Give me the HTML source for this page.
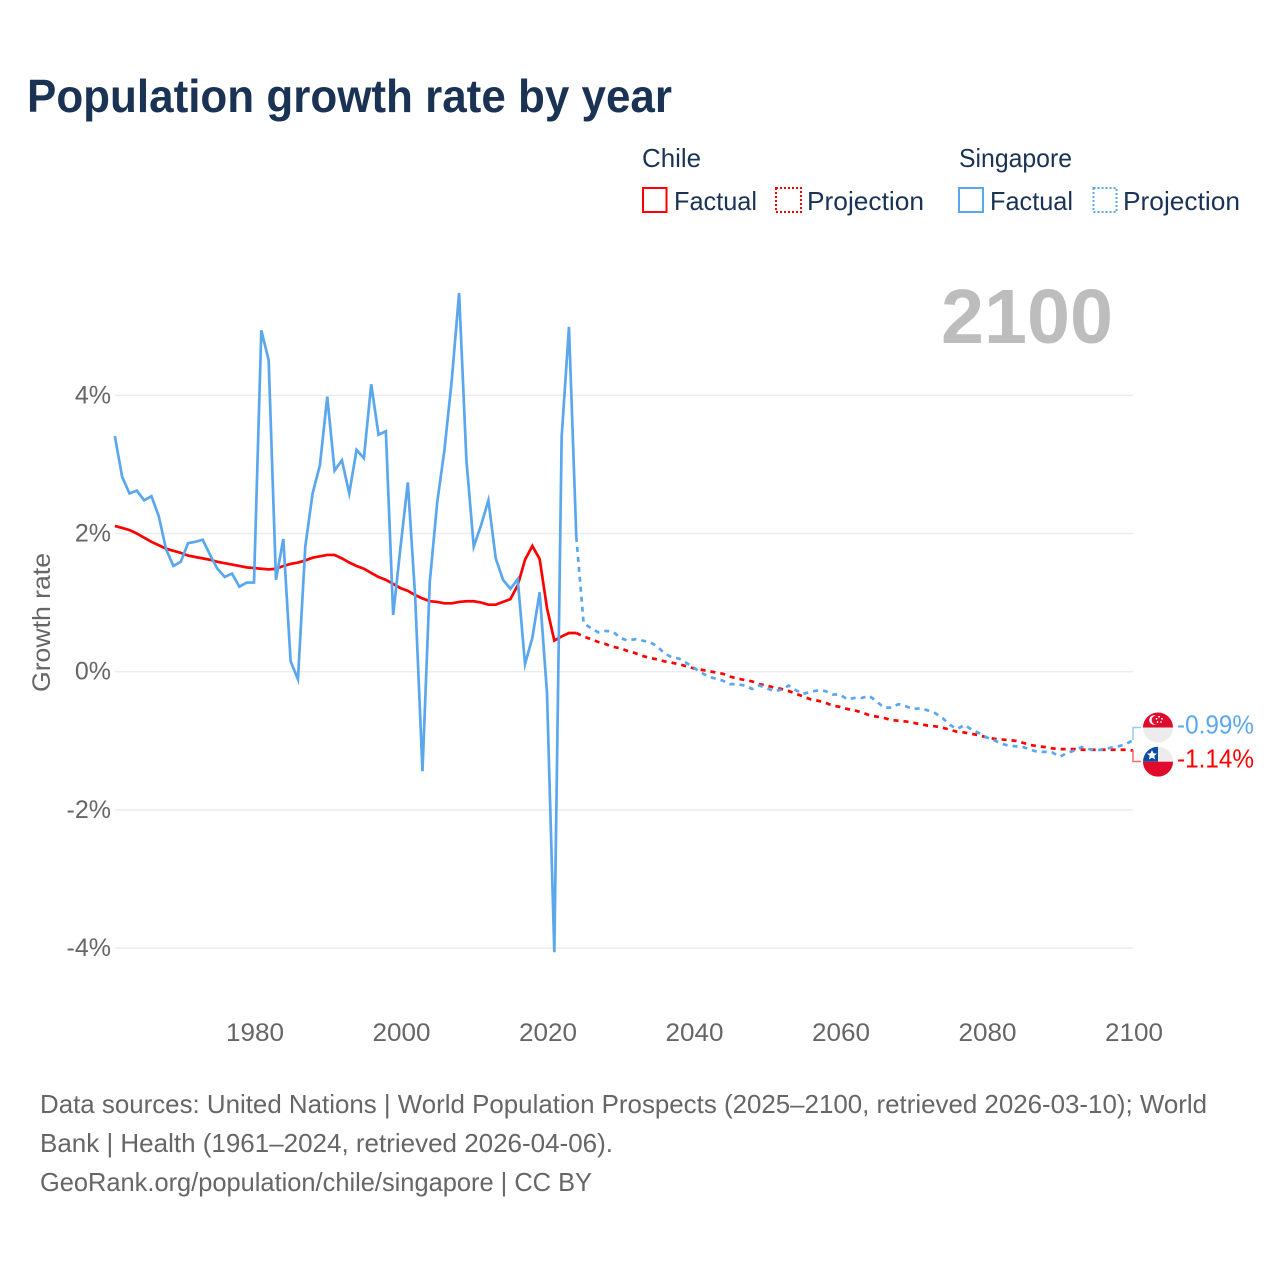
<!DOCTYPE html>
<html lang="en">
<head>
<meta charset="utf-8">
<title>Population growth rate by year</title>
<style>
html,body{margin:0;padding:0;background:#fff;}
svg{display:block;font-family:"Liberation Sans",sans-serif;}
</style>
</head>
<body>
<svg id="chart" xmlns="http://www.w3.org/2000/svg" width="1280" height="1280" viewBox="0 0 1280 1280">
  <defs>
    <clipPath id="clip-sg"><circle cx="1158" cy="727.5" r="15"/></clipPath>
    <clipPath id="clip-cl"><circle cx="1158" cy="761.7" r="15"/></clipPath>
  </defs>
  <rect x="0" y="0" width="1280" height="1280" fill="#fff"/>
  <text x="27" y="112" font-size="46" font-weight="700" fill="#1a3354" textLength="645" lengthAdjust="spacingAndGlyphs">Population growth rate by year</text>

  <g font-size="26" fill="#1a3354">
    <text x="642" y="167" textLength="59" lengthAdjust="spacingAndGlyphs">Chile</text>
    <text x="959" y="167" textLength="113" lengthAdjust="spacingAndGlyphs">Singapore</text>
    <rect x="643" y="188" width="23.5" height="24" fill="none" stroke="#ff0000" stroke-width="2"/>
    <text x="674" y="210" textLength="83" lengthAdjust="spacingAndGlyphs">Factual</text>
    <rect x="776" y="188" width="25" height="24" fill="none" stroke="#ff0000" stroke-width="2" stroke-dasharray="2 2"/>
    <text x="807" y="210" textLength="117" lengthAdjust="spacingAndGlyphs">Projection</text>
    <rect x="959" y="188" width="24" height="24" fill="none" stroke="#5ba7ee" stroke-width="2"/>
    <text x="990" y="210" textLength="83" lengthAdjust="spacingAndGlyphs">Factual</text>
    <rect x="1093.5" y="188" width="23" height="24" fill="none" stroke="#5ba7ee" stroke-width="2" stroke-dasharray="2 2"/>
    <text x="1123" y="210" textLength="117" lengthAdjust="spacingAndGlyphs">Projection</text>
  </g>

  <text x="941" y="343" font-size="77" font-weight="700" fill="#bdbdbd" textLength="172" lengthAdjust="spacingAndGlyphs">2100</text>

  <g id="grid"></g>
  <g id="yticks" font-size="25" fill="#666"></g>
  <g id="xticks" font-size="25" fill="#666"></g>
  <text transform="translate(50,692) rotate(-90)" x="0" y="0" font-size="25" fill="#666" textLength="139" lengthAdjust="spacingAndGlyphs">Growth rate</text>
  <g id="series"></g>

  <path d="M1133 740V727.5H1141" fill="none" stroke="#9cc8f3" stroke-width="1.5"/>
  <path d="M1133 750V761.5H1141" fill="none" stroke="#f56a6a" stroke-width="1.5"/>

  <g clip-path="url(#clip-sg)">
    <rect x="1143" y="712.5" width="30" height="15" fill="#df0a2c"/>
    <rect x="1143" y="727.5" width="30" height="15" fill="#ececec"/>
    <circle cx="1154" cy="720" r="4.8" fill="#fff"/>
    <circle cx="1156" cy="720" r="4.4" fill="#df0a2c"/>
    <circle cx="1159" cy="716.8" r="0.9" fill="#fff"/>
    <circle cx="1162" cy="718.8" r="0.9" fill="#fff"/>
    <circle cx="1161" cy="722" r="0.9" fill="#fff"/>
    <circle cx="1157.5" cy="722" r="0.9" fill="#fff"/>
    <circle cx="1156.5" cy="718.8" r="0.9" fill="#fff"/>
  </g>
  <g clip-path="url(#clip-cl)">
    <rect x="1143" y="746.7" width="30" height="15" fill="#ececec"/>
    <rect x="1143" y="746.7" width="15" height="15" fill="#0b4ea2"/>
    <rect x="1143" y="761.7" width="30" height="15" fill="#df0a2c"/>
    <polygon points="1152,750 1153.4,753.3 1157,753.6 1154.3,755.9 1155.1,759.4 1152,757.6 1148.9,759.4 1149.7,755.9 1147,753.6 1150.6,753.3" fill="#fff"/>
  </g>
  <text x="1177" y="733.5" font-size="26" fill="#5ba7ee" textLength="77" lengthAdjust="spacingAndGlyphs">-0.99%</text>
  <text x="1177" y="767.5" font-size="26" fill="#ff0000" textLength="77" lengthAdjust="spacingAndGlyphs">-1.14%</text>

  <g font-size="26" fill="#666">
    <text x="40" y="1113" textLength="1167" lengthAdjust="spacingAndGlyphs">Data sources: United Nations | World Population Prospects (2025–2100, retrieved 2026-03-10); World</text>
    <text x="40" y="1152" textLength="573" lengthAdjust="spacingAndGlyphs">Bank | Health (1961–2024, retrieved 2026-04-06).</text>
    <text x="40" y="1191" textLength="552" lengthAdjust="spacingAndGlyphs">GeoRank.org/population/chile/singapore | CC BY</text>
  </g>
</svg>
<script>
const yTickValues = [4, 2, 0, -2, -4];
const xTickYears = [1980, 2000, 2020, 2040, 2060, 2080, 2100];
const firstYear = 1961;
const lastFactualYear = 2024;

// Chile growth rate, percent, 1961-2024
const chileFactual = [2.11,2.08,2.05,2.00,1.94,1.88,1.83,1.78,1.75,1.72,1.68,1.66,1.64,1.62,1.59,1.57,1.55,1.53,1.51,1.50,
1.49,1.48,1.49,1.53,1.56,1.58,1.61,1.65,1.67,1.69,1.69,1.64,1.58,1.53,1.49,1.43,1.37,1.33,1.27,1.21,
1.17,1.11,1.06,1.02,1.01,0.99,0.99,1.01,1.02,1.02,1.00,0.97,0.97,1.01,1.05,1.25,1.62,1.82,1.63,0.92,
0.45,0.51,0.56,0.56];
// Chile growth rate, percent, 2024-2100
const chileProjection = [0.56,0.51,0.47,0.43,0.40,0.36,0.34,0.30,0.27,0.23,0.20,0.18,0.15,0.13,0.11,0.08,0.05,0.03,0.01,-0.01,
-0.03,-0.07,-0.10,-0.12,-0.14,-0.18,-0.20,-0.23,-0.25,-0.28,-0.32,-0.36,-0.40,-0.42,-0.45,-0.49,-0.51,-0.54,-0.56,-0.59,
-0.63,-0.65,-0.67,-0.70,-0.71,-0.72,-0.74,-0.76,-0.78,-0.79,-0.81,-0.84,-0.87,-0.88,-0.90,-0.92,-0.95,-0.97,-0.98,-0.99,
-1.00,-1.03,-1.06,-1.08,-1.09,-1.11,-1.12,-1.12,-1.12,-1.13,-1.13,-1.13,-1.13,-1.13,-1.13,-1.13,-1.14];
// Singapore growth rate, percent, 1961-2024
const singaporeFactual = [3.41,2.82,2.58,2.62,2.48,2.54,2.25,1.77,1.53,1.59,1.86,1.88,1.91,1.69,1.49,1.37,1.42,1.23,1.29,1.29,
4.94,4.51,1.33,1.92,0.15,-0.11,1.81,2.58,2.99,3.98,2.91,3.06,2.58,3.21,3.09,4.16,3.43,3.48,0.82,1.80,
2.74,1.09,-1.44,1.30,2.44,3.21,4.22,5.48,3.06,1.81,2.12,2.48,1.64,1.33,1.20,1.34,0.11,0.49,1.15,-0.31,
-4.06,3.40,4.99,1.95];
// Singapore growth rate, percent, 2024-2100
const singaporeProjection = [1.95,0.70,0.63,0.57,0.59,0.58,0.49,0.45,0.47,0.45,0.43,0.37,0.27,0.21,0.19,0.13,0.06,-0.01,-0.07,-0.10,
-0.13,-0.18,-0.18,-0.20,-0.25,-0.20,-0.24,-0.28,-0.26,-0.20,-0.27,-0.32,-0.29,-0.27,-0.28,-0.33,-0.33,-0.40,-0.38,-0.38,
-0.35,-0.43,-0.52,-0.52,-0.47,-0.50,-0.54,-0.53,-0.56,-0.60,-0.67,-0.77,-0.83,-0.77,-0.84,-0.89,-0.95,-0.99,-1.04,-1.07,
-1.08,-1.09,-1.13,-1.16,-1.16,-1.17,-1.23,-1.18,-1.14,-1.09,-1.12,-1.14,-1.12,-1.10,-1.08,-1.05,-0.99];

const NS = 'http://www.w3.org/2000/svg';
const plotLeft = 115, plotRight = 1133;
function xScale(year) { return 1133 - (2100 - year) * 7.325; }
function yScale(value) { return 671.7 - value * 69.1; }
function linePath(values, startYear) {
  return values.map(function (v, i) {
    return (i ? 'L' : 'M') + xScale(startYear + i).toFixed(2) + ' ' + yScale(v).toFixed(2);
  }).join('');
}

const gridGroup = document.getElementById('grid');
const yGroup = document.getElementById('yticks');
yTickValues.forEach(function (v) {
  const line = document.createElementNS(NS, 'line');
  
  
  line.setAttribute('x1', plotLeft);
  line.setAttribute('x2', plotRight);
  line.setAttribute('y1', yScale(v));
  line.setAttribute('y2', yScale(v));
  line.setAttribute('stroke', '#ececec');
  line.setAttribute('stroke-width', '1.5');
  gridGroup.appendChild(line);

  const label = document.createElementNS(NS, 'text');
  
  
  label.setAttribute('x', 111);
  label.setAttribute('y', yScale(v) + 8);
  label.setAttribute('text-anchor', 'end');
  label.textContent = v + '%';
  yGroup.appendChild(label);
});

const xGroup = document.getElementById('xticks');
xTickYears.forEach(function (year) {
  const label = document.createElementNS(NS, 'text');
  
  
  label.setAttribute('x', xScale(year) - 28);
  label.setAttribute('y', 1041);
  label.setAttribute('textLength', '58');
  label.setAttribute('lengthAdjust', 'spacingAndGlyphs');
  label.textContent = year;
  xGroup.appendChild(label);
});

const seriesGroup = document.getElementById('series');
function addLine(values, startYear, color, dashed, name) {
  const path = document.createElementNS(NS, 'path');
  
  
  path.setAttribute('d', linePath(values, startYear));
  path.setAttribute('fill', 'none');
  path.setAttribute('stroke', color);
  path.setAttribute('stroke-width', '2.7');
  path.setAttribute('stroke-linejoin', 'miter');
  path.setAttribute('stroke-miterlimit', '6');
  if (dashed) path.setAttribute('stroke-dasharray', '5 5');
  seriesGroup.appendChild(path);
}
addLine(chileFactual, firstYear, '#ff0000', false, 'chile-factual-line');
addLine(chileProjection, lastFactualYear, '#ff0000', true, 'chile-projection-line');
addLine(singaporeFactual, firstYear, '#5ba7ee', false, 'singapore-factual-line');
addLine(singaporeProjection, lastFactualYear, '#5ba7ee', true, 'singapore-projection-line');
</script>
</body>
</html>
